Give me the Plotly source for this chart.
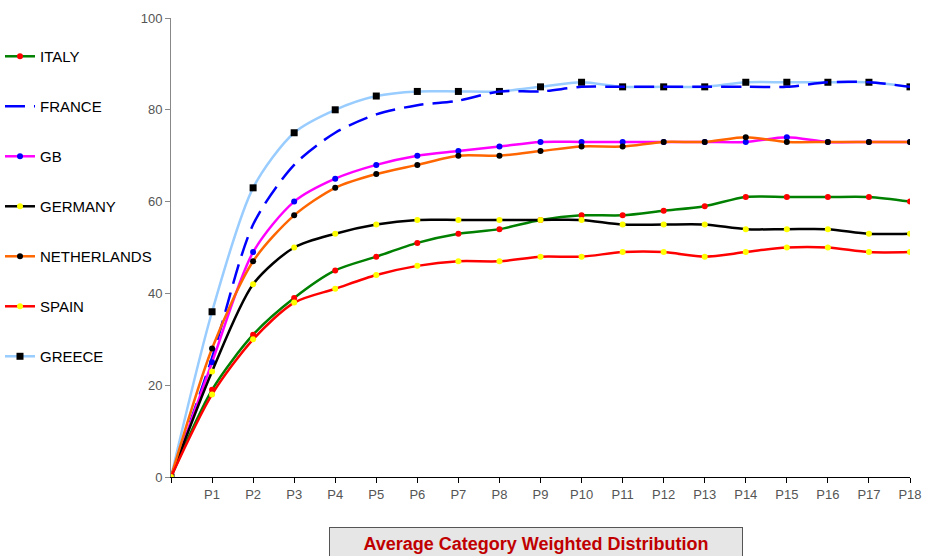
import plotly.graph_objects as go

labels = [""] + [f"P{i}" for i in range(1, 19)]

italy =       [0, 19, 31, 39, 45, 48, 51, 53, 54, 56, 57, 57, 58, 59, 61, 61, 61, 61, 60]
france =      [0, 26, 55, 68, 75, 79, 81, 82, 84, 84, 85, 85, 85, 85, 85, 85, 86, 86, 85]
gb =          [0, 25, 49, 60, 65, 68, 70, 71, 72, 73, 73, 73, 73, 73, 73, 74, 73, 73, 73]
germany =     [0, 23, 42, 50, 53, 55, 56, 56, 56, 56, 56, 55, 55, 55, 54, 54, 54, 53, 53]
netherlands = [0, 28, 47, 57, 63, 66, 68, 70, 70, 71, 72, 72, 73, 73, 74, 73, 73, 73, 73]
spain =       [0, 18, 30, 38, 41, 44, 46, 47, 47, 48, 48, 49, 49, 48, 49, 50, 50, 49, 49]
greece =      [0, 36, 63, 75, 80, 83, 84, 84, 84, 85, 86, 85, 85, 85, 86, 86, 86, 86, 85]

xs = list(range(len(labels)))

series = [
    # name, values, line colour, marker colour, symbol, dash, rank
    ("GREECE", greece, "#99CCFF", "#000000", "square", "solid", 7),
    ("ITALY", italy, "#008000", "#FF0000", "circle", "solid", 1),
    ("FRANCE", france, "#0000FF", None, None, "20px,9px", 2),
    ("GB", gb, "#FF00FF", "#0000FF", "circle", "solid", 3),
    ("GERMANY", germany, "#000000", "#FFFF00", "circle", "solid", 4),
    ("NETHERLANDS", netherlands, "#FF6600", "#000000", "circle", "solid", 5),
    ("SPAIN", spain, "#FF0000", "#FFFF00", "circle", "solid", 6),
]

fig = go.Figure()
for name, vals, lc, mc, sym, dash, rank in series:
    if mc is None:
        mode = "lines"
        marker = None
    else:
        mode = "lines+markers"
        marker = dict(color=mc, symbol=sym, size=7 if sym == "square" else 6, line=dict(width=0))
    fig.add_trace(go.Scatter(
        x=xs, y=vals, name=name, mode=mode,
        line=dict(color=lc, width=2.5, shape="spline", smoothing=0.8, dash=dash),
        marker=marker, legendrank=rank, legendgroup=name,
    ))

fig.update_layout(
    width=936, height=556,
    margin=dict(l=171, r=26, t=18, b=79, autoexpand=False),
    paper_bgcolor="white", plot_bgcolor="white",
    font=dict(family="Liberation Sans, Arial, sans-serif", size=13, color="#555555"),
    showlegend=True,
    legend=dict(
        xref="container", yref="container", x=0.0, y=0.928, xanchor="left", yanchor="top",
        font=dict(size=15, color="#000000"), tracegroupgap=27.5, traceorder="grouped",
        bgcolor="rgba(0,0,0,0)", itemwidth=30, maxheight=520,
    ),
    xaxis=dict(
        range=[0, 18], tickmode="array", tickvals=xs, ticktext=labels,
        showgrid=False, zeroline=False, showline=True, linecolor="#000000", linewidth=1,
        ticks="outside", ticklen=5, tickcolor="#000000",
        tickfont=dict(size=13, color="#555555"),
    ),
    yaxis=dict(
        range=[0, 100], tickvals=[0, 20, 40, 60, 80, 100],
        showgrid=False, zeroline=False, showline=True, linecolor="#888888", linewidth=1,
        ticks="outside", ticklen=5, tickcolor="#888888",
        tickfont=dict(size=13, color="#555555"),
    ),
)

fig.add_annotation(
    text="<b>Average Category Weighted Distribution</b>",
    xref="paper", yref="paper",
    x=(536 - 171) / 739, y=-(527 - 477) / 459,
    showarrow=False, font=dict(size=18, color="#C00000"),
    bgcolor="#E6E6E6", bordercolor="#555555", borderwidth=1,
    width=404, height=24, valign="middle", borderpad=4,
    yanchor="top", xanchor="center",
)

fig.write_html("out.html")
